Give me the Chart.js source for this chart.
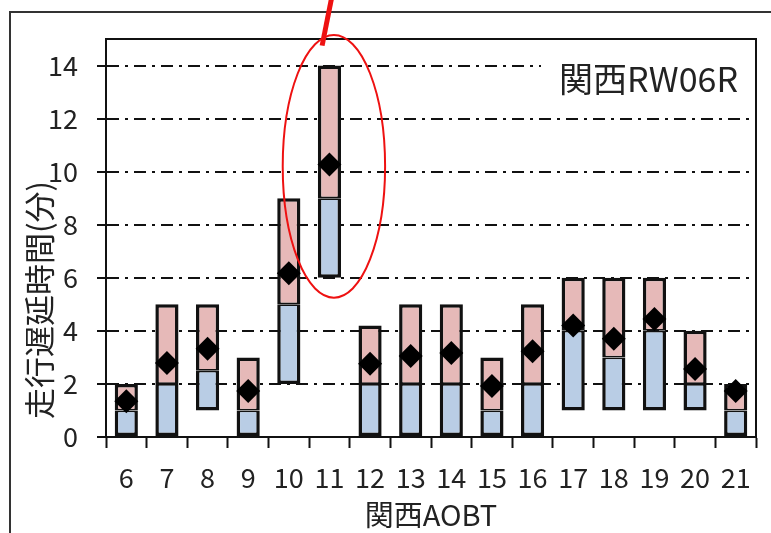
<!DOCTYPE html>
<html>
<head>
<meta charset="utf-8">
<script src="https://cdn.jsdelivr.net/npm/chart.js@4.4.1/dist/chart.umd.min.js"></script>
<style>
  html, body { margin: 0; padding: 0; background: #fff; }
  #wrap { width: 771px; height: 533px; }
</style>
</head>
<body>
<div id="wrap"><canvas id="chart"></canvas></div>
<script>
// Hour of AOBT (categories) and delay stats in minutes
const HOURS = ['6', '7', '8', '9', '10', '11', '12', '13', '14', '15', '16', '17', '18', '19', '20', '21'];
const MIN_VALUES = [0, 0, 1, 0, 2, 6, 0, 0, 0, 0, 0, 1, 1, 1, 1, 0];
const MID_VALUES = [1, 2, 2.5, 1, 5, 9, 2, 2, 2, 1, 2, 4, 3, 4, 2, 1];
const MAX_VALUES = [2, 5, 5, 3, 9, 14, 4.2, 5, 5, 3, 5, 6, 6, 6, 4, 2];
const MEAN_VALUES = [1.35, 2.79, 3.33, 1.73, 6.17, 10.27, 2.76, 3.05, 3.17, 1.92, 3.23, 4.2, 3.7, 4.45, 2.56, 1.73];

const Y_TITLE = '走行遅延時間(分)';
const X_TITLE = '関西AOBT';
const PANEL_LABEL = '関西RW06R';

// hand-drawn highlight around the 11 o'clock bar (category index / value units)
const NOTE_ELLIPSE = { x: 5.11, y: 10.2, rx: 1.26, ry: 4.95 };
const NOTE_LINE = { x1: 5.06, y1: 16.6, x2: 4.82, y2: 14.75 };

const FONT = '"Noto Sans CJK JP", "Noto Sans", sans-serif';
const BLUE = '#b9cde5';
const PINK = '#e6b9b8';
const INK = '#111';

const decorPlugin = {
    id: 'decor',
    beforeDraw(chart) {
        const ctx = chart.ctx;
        ctx.save();
        ctx.fillStyle = '#fff';
        ctx.fillRect(0, 0, chart.width, chart.height);
        // outer chart frame
        ctx.strokeStyle = '#333';
        ctx.lineWidth = 2;
        ctx.strokeRect(10, 12, chart.width + 20, chart.height + 20);
        ctx.restore();
    },
    beforeDatasetsDraw(chart) {
        const ctx = chart.ctx;
        const area = chart.chartArea;
        // label box hides the top grid line
        ctx.save();
        ctx.font = '34px ' + FONT;
        const w = ctx.measureText(PANEL_LABEL).width;
        ctx.fillStyle = '#fff';
        ctx.fillRect(area.right - 18 - w - 18, 50, w + 34, 56);
        ctx.fillStyle = '#222';
        ctx.textAlign = 'right';
        ctx.textBaseline = 'middle';
        ctx.fillText(PANEL_LABEL, area.right - 18, 79);
        ctx.restore();
    },
    afterDraw(chart) {
        const ctx = chart.ctx;
        const area = chart.chartArea;
        const x = chart.scales.x;
        const y = chart.scales.y;
        ctx.save();
        // plot area frame (top and right)
        ctx.strokeStyle = INK;
        ctx.lineWidth = 2;
        ctx.beginPath();
        ctx.moveTo(area.left, area.top);
        ctx.lineTo(area.right, area.top);
        ctx.lineTo(area.right, area.bottom);
        ctx.stroke();

        // y axis title
        ctx.translate(39, (area.top + area.bottom) / 2 + 62);
        ctx.rotate(-Math.PI / 2);
        ctx.font = '31px ' + FONT;
        ctx.fillStyle = '#222';
        ctx.textAlign = 'center';
        ctx.textBaseline = 'middle';
        ctx.fillText(Y_TITLE, 0, 0);
        ctx.restore();

        // red highlight
        ctx.save();
        ctx.strokeStyle = '#ee1111';
        ctx.lineWidth = 2;
        const cx = x.getPixelForValue(NOTE_ELLIPSE.x);
        const cy = y.getPixelForValue(NOTE_ELLIPSE.y);
        const rx = x.getPixelForValue(NOTE_ELLIPSE.x + NOTE_ELLIPSE.rx) - cx;
        const ry = cy - y.getPixelForValue(NOTE_ELLIPSE.y + NOTE_ELLIPSE.ry);
        ctx.beginPath();
        ctx.ellipse(cx, cy, rx, ry, 0, 0, Math.PI * 2);
        ctx.stroke();
        ctx.lineWidth = 5;
        ctx.beginPath();
        ctx.moveTo(x.getPixelForValue(NOTE_LINE.x1), y.getPixelForValue(NOTE_LINE.y1));
        ctx.lineTo(x.getPixelForValue(NOTE_LINE.x2), y.getPixelForValue(NOTE_LINE.y2));
        ctx.stroke();
        ctx.restore();
    }
};

const barCommon = {
    type: 'bar',
    borderColor: INK,
    borderSkipped: false,
    grouped: false,
    barPercentage: 0.57,
    categoryPercentage: 1
};

new Chart(document.getElementById('chart'), {
    type: 'bar',
    data: {
        labels: HOURS,
        datasets: [
            {
                ...barCommon,
                label: 'low',
                data: MIN_VALUES.map((v, i) => [v, MID_VALUES[i]]),
                backgroundColor: BLUE,
                borderWidth: { top: 1.75, bottom: 3.5, left: 3.5, right: 3.5 },
                order: 2
            },
            {
                ...barCommon,
                label: 'high',
                data: MID_VALUES.map((v, i) => [v, MAX_VALUES[i]]),
                backgroundColor: PINK,
                borderWidth: { top: 3.5, bottom: 1.75, left: 3.5, right: 3.5 },
                order: 1
            },
            {
                type: 'line',
                label: 'mean',
                data: MEAN_VALUES,
                showLine: false,
                pointStyle: 'rectRot',
                pointRadius: 12,
                backgroundColor: '#000',
                borderColor: '#000',
                borderWidth: 0,
                order: 0
            }
        ]
    },
    options: {
        responsive: true,
        maintainAspectRatio: false,
        animation: false,
        layout: {
            padding: { left: 0, right: 15, top: 39, bottom: 0 }
        },
        scales: {
            x: {
                grid: {
                    drawOnChartArea: false,
                    drawTicks: true,
                    tickLength: 11,
                    tickColor: INK,
                    tickWidth: 2
                },
                border: { display: true, color: INK, width: 2 },
                ticks: {
                    color: '#222',
                    padding: 14,
                    maxRotation: 0,
                    autoSkip: false,
                    font: { family: FONT, size: 27 }
                },
                title: {
                    display: true,
                    text: X_TITLE,
                    color: '#222',
                    padding: { top: 0, bottom: 1 },
                    font: { family: FONT, size: 29 }
                },
                afterFit(scale) {
                    scale.height = 96;
                }
            },
            y: {
                min: 0,
                max: 15,
                grid: {
                    color: INK,
                    lineWidth: 2,
                    tickBorderDash: [],
                    tickLength: 9,
                    tickColor: INK,
                    tickWidth: 2
                },
                border: { display: true, color: INK, width: 2, dash: [12, 6, 3, 6] },
                ticks: {
                    stepSize: 2,
                    includeBounds: false,
                    color: '#222',
                    padding: 19,
                    font: { family: FONT, size: 27 }
                },
                afterFit(scale) {
                    scale.width = 106;
                }
            }
        },
        plugins: {
            legend: { display: false },
            tooltip: { enabled: false }
        }
    },
    plugins: [decorPlugin]
});
</script>
</body>
</html>
